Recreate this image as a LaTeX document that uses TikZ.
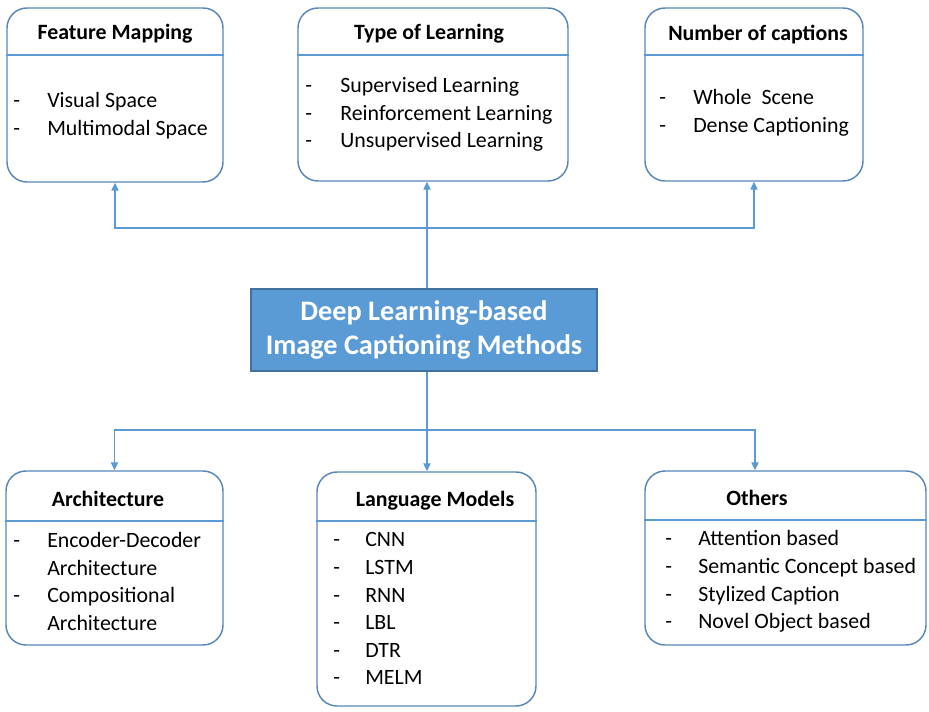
\documentclass[tikz,border=0pt]{standalone}
\usepackage{fontspec}
\setmainfont{Carlito}
\usetikzlibrary{fit,arrows.meta}

\definecolor{boxblue}{RGB}{88,134,184}
\definecolor{linkblue}{RGB}{91,155,213}
\definecolor{hubfill}{RGB}{91,155,213}
\definecolor{hubedge}{RGB}{65,113,156}

\tikzset{
  box/.style={draw=boxblue, line width=1.1pt, rounded corners=15pt, inner sep=0pt},
  divider/.style={draw=linkblue, line width=0.9pt},
  title/.style={anchor=base, inner sep=0pt, font=\fontsize{16.4}{20}\selectfont\bfseries},
  entry/.style={anchor=base west, inner sep=0pt, font=\fontsize{16.4}{20}\selectfont},
  link/.style={draw=linkblue, line width=0.9pt},
  arr/.style={link, -{Triangle[length=6pt,width=5.5pt]}},
  hub/.style={draw=hubedge, line width=1pt, fill=hubfill, text=white,
    minimum width=259.5pt, minimum height=61.5pt, inner sep=0pt,
    align=center, font=\fontsize{21.2}{25.5}\selectfont\bfseries}
}

\begin{document}
\begin{tikzpicture}[x=0.75pt, y=-0.75pt]
\useasboundingbox (0,0) rectangle (929,712);

% central node
\node[hub] (hub) at (424,330) {Deep Learning-based\\Image Captioning Methods};

% upper boxes
\node[box, fit={(7,8) (223,182)}] (fm) {};
\node[box, fit={(298,8) (568,181)}] (tol) {};
\node[box, fit={(645,8) (863,181)}] (nc) {};

% lower boxes
\node[box, fit={(6,471) (223,645)}] (ar) {};
\node[box, fit={(317,472) (536,706)}] (lm) {};
\node[box, fit={(645,471) (926,645)}] (ot) {};

% header dividers
\draw[divider] (fm.west |- 0,55) -- (fm.east |- 0,55);
\draw[divider] (tol.west |- 0,55) -- (tol.east |- 0,55);
\draw[divider] (nc.west |- 0,55) -- (nc.east |- 0,55);
\draw[divider] (ar.west |- 0,521) -- (ar.east |- 0,521);
\draw[divider] (lm.west |- 0,521) -- (lm.east |- 0,521);
\draw[divider] (ot.west |- 0,520) -- (ot.east |- 0,520);

% titles
\node[title] (fm-t) at (115,40) {Feature Mapping};
\node[title] (tol-t) at (429,40) {Type of Learning};
\node[title] (nc-t) at (758,41) {Number of captions};
\node[title] (ar-t) at (108,507) {Architecture};
\node[title] (lm-t) at (435,507) {Language Models};
\node[title] (ot-t) at (757,506) {Others};

% list entries
\foreach \t [count=\i from 0] in {Visual Space, Multimodal Space} {
  \node[entry] (fm-d\i) at (13,{108+27.3*\i}) {-};
  \node[entry] (fm-e\i) at (47,{108+27.3*\i}) {\t};
}
\foreach \t [count=\i from 0] in {Supervised Learning, Reinforcement Learning, Unsupervised Learning} {
  \node[entry] (tol-d\i) at (305,{93+27.3*\i}) {-};
  \node[entry] (tol-e\i) at (340,{93+27.3*\i}) {\t};
}
\foreach \t [count=\i from 0] in {Whole\ \ Scene, Dense Captioning} {
  \node[entry] (nc-d\i) at (659,{105+27.5*\i}) {-};
  \node[entry] (nc-e\i) at (693,{105+27.5*\i}) {\t};
}
\foreach \t [count=\i from 0] in {Encoder-Decoder, Architecture, Compositional, Architecture} {
  \node[entry] (ar-e\i) at (47,{548+27.4*\i}) {\t};
}
\node[entry] (ar-d0) at (13,548) {-};
\node[entry] (ar-d1) at (13,603) {-};
\foreach \t [count=\i from 0] in {CNN, LSTM, RNN, LBL, DTR, MELM} {
  \node[entry] (lm-d\i) at (333,{547+27.6*\i}) {-};
  \node[entry] (lm-e\i) at (365,{547+27.6*\i}) {\t};
}
\foreach \t [count=\i from 0] in {Attention based, Semantic Concept based, Stylized Caption, Novel Object based} {
  \node[entry] (ot-d\i) at (665,{546+27.6*\i}) {-};
  \node[entry] (ot-e\i) at (698,{546+27.6*\i}) {\t};
}

% connector routing points
\coordinate (tbus) at (427,228);
\coordinate (bbus) at (427,430);
\coordinate (otx) at (755,0);

% upward connectors
\draw[arr] (hub.north -| tbus) -- (tol.south -| tbus);
\draw[arr] (tbus) -| (fm.south);
\draw[arr] (tbus) -| (nc.south);

% downward connectors
\draw[link] (hub.south -| bbus) -- (bbus);
\draw[arr] (bbus) -- (lm.north -| bbus);
\draw[arr] (bbus) -| (ar.north);
\draw[arr] (bbus) -| (ot.north -| otx);
\end{tikzpicture}
\end{document}
